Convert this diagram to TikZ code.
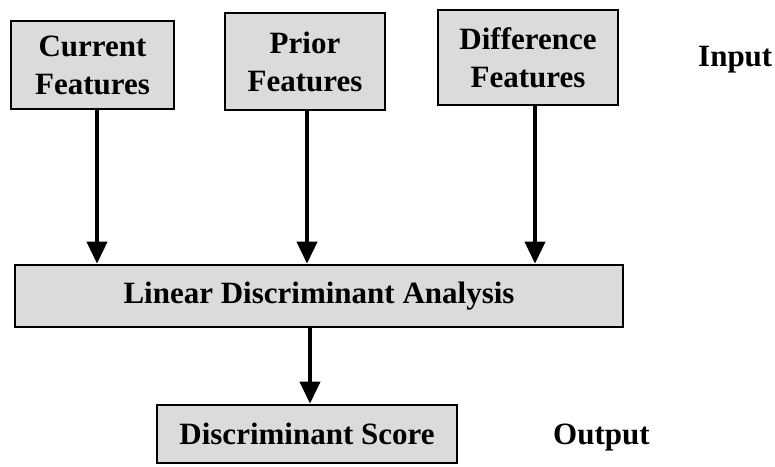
\documentclass[tikz,border=0pt]{standalone}
\usepackage{fontspec}
\setmainfont{Liberation Serif}
\usetikzlibrary{arrows.meta}
\begin{document}
\begin{tikzpicture}[x=1pt,y=-1pt,
  box/.style={draw=black, line width=2.6pt, fill=black!14, font=\bfseries\fontsize{31}{38}\selectfont, align=center, inner sep=0pt},
  lbl/.style={font=\bfseries\fontsize{31}{38}\selectfont, inner sep=0pt, anchor=base west},
  arr/.style={line width=3.8pt, -{Triangle[length=22pt,width=20pt]}}]
\useasboundingbox (0,0) rectangle (775,466);
\node[box, minimum width=163pt, minimum height=88pt] (cur) at (92.5,65) {Current\\Features};
\node[box, minimum width=160pt, minimum height=97pt] (pri) at (305,61.5) {Prior\\Features};
\node[box, minimum width=180pt, minimum height=95pt] (dif) at (528,57.5) {Difference\\Features};
\node[box, minimum width=608pt, minimum height=62pt] (lda) at (319,296) {Linear Discriminant Analysis};
\node[box, minimum width=300pt, minimum height=58pt] (ds) at (307,434) {Discriminant Score};
\node[lbl] (in) at (698,66) {Input};
\node[lbl] (out) at (553,444) {Output};
\draw[arr] ([xshift=4.5pt]cur.south) -- ([xshift=4.5pt]cur.south |- lda.north);
\draw[arr] ([xshift=2pt]pri.south) -- ([xshift=2pt]pri.south |- lda.north);
\draw[arr] ([xshift=7pt]dif.south) -- ([xshift=7pt]dif.south |- lda.north);
\draw[arr] ([xshift=-9pt]lda.south) -- ([xshift=-9pt]lda.south |- ds.north);
\end{tikzpicture}
\end{document}
